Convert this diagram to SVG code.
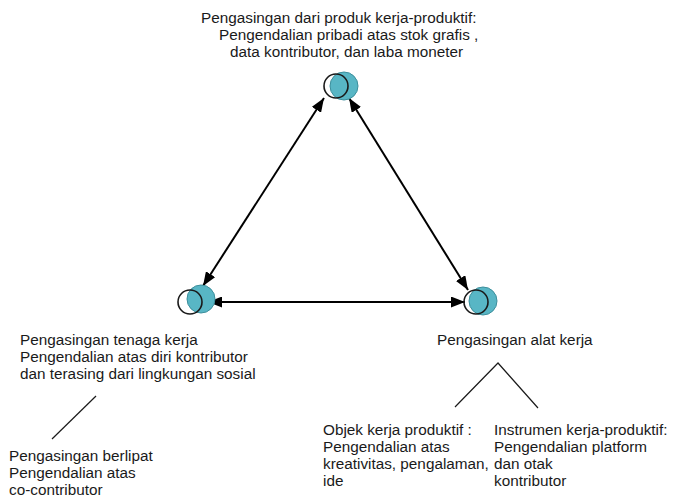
<svg xmlns="http://www.w3.org/2000/svg" width="700" height="497" viewBox="0 0 700 497">
<defs>
<style>
text{font-family:"Liberation Sans",Arial,sans-serif;font-size:15.3px;fill:#1a1a1a}
.teal{fill:#58B6C5;stroke:#3d8f9c;stroke-width:1}
.ring{fill:none;stroke:#1a1a1a;stroke-width:1.6}
.conn{stroke:#000;stroke-width:2;fill:none}
.thin{stroke:#1a1a1a;stroke-width:1.2;fill:none}
</style>
<marker id="ah" viewBox="0 0 14 11" refX="14" refY="5.5" markerWidth="14" markerHeight="11" markerUnits="userSpaceOnUse" orient="auto-start-reverse">
<path d="M0,0 L14,5.5 L0,11 Z" fill="#000"/>
</marker>
</defs>
<rect width="700" height="497" fill="#fff"/>
<g id="connectors">
<line class="conn" x1="324" y1="98" x2="203" y2="286" marker-start="url(#ah)" marker-end="url(#ah)"/>
<line class="conn" x1="349" y1="98" x2="468" y2="290" marker-start="url(#ah)" marker-end="url(#ah)"/>
<line class="conn" x1="208" y1="302" x2="465" y2="302" marker-start="url(#ah)" marker-end="url(#ah)"/>
<line class="thin" x1="96" y1="396" x2="52" y2="439"/>
<polyline class="thin" points="455,407 498,363 538,408"/>
</g>
<g id="node-top">
<circle class="teal" cx="344" cy="86" r="14"/>
<circle class="ring" cx="336" cy="86" r="12"/>
<text x="201" y="23">Pengasingan dari produk kerja-produktif:</text>
<text x="219" y="40">Pengendalian pribadi atas stok grafis ,</text>
<text x="230" y="57">data kontributor, dan laba moneter</text>
</g>
<g id="node-left">
<circle class="teal" cx="201" cy="299" r="14"/>
<circle class="ring" cx="190" cy="302" r="12"/>
<text x="20" y="345">Pengasingan tenaga kerja</text>
<text x="20" y="362">Pengendalian atas diri kontributor</text>
<text x="20" y="379">dan terasing dari lingkungan sosial</text>
</g>
<g id="node-right">
<circle class="teal" cx="483" cy="301" r="14"/>
<circle class="ring" cx="476" cy="302" r="12"/>
<text x="437" y="345">Pengasingan alat kerja</text>
</g>
<g id="node-berlipat">
<text x="9" y="461">Pengasingan berlipat</text>
<text x="9" y="478">Pengendalian atas</text>
<text x="9" y="495">co-contributor</text>
</g>
<g id="node-objek">
<text x="323" y="435">Objek kerja produktif :</text>
<text x="323" y="452">Pengendalian atas</text>
<text x="323" y="469">kreativitas, pengalaman,</text>
<text x="323" y="486">ide</text>
</g>
<g id="node-instrumen">
<text x="494" y="435">Instrumen kerja-produktif:</text>
<text x="494" y="452">Pengendalian platform</text>
<text x="494" y="469">dan otak</text>
<text x="494" y="486">kontributor</text>
</g>
</svg>
